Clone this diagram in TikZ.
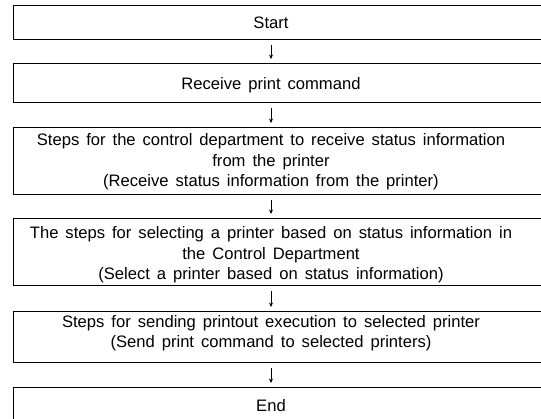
\documentclass[tikz,border=0pt]{standalone}
\usepackage{fontspec}
\setmainfont{Liberation Sans}
\usetikzlibrary{arrows.meta}
\begin{document}
\begin{tikzpicture}[x=1pt,y=-1pt,
  frame/.style={draw=black, line width=1.2pt, inner sep=0pt, anchor=north west,
    minimum width=532pt},
  steptext/.style={font={\fontsize{16.6}{20.5}\selectfont\spaceskip=0.42em\relax},
    align=center, inner sep=0pt},
  flow/.style={line width=0.9pt, -{Stealth[length=4.5pt,width=4pt]}}]
\useasboundingbox (0,0) rectangle (541,419);
\fill[white] (0,0) rectangle (541,419);

% frames of the six steps (right side runs off the page)
\node[frame, minimum height=34pt] (b1) at (13,5) {};
\node[frame, minimum height=39pt] (b2) at (13,63) {};
\node[frame, minimum height=67pt] (b3) at (13,127) {};
\node[frame, minimum height=67pt] (b4) at (13,218) {};
\node[frame, minimum height=51pt] (b5) at (13,311) {};
\node[frame, minimum height=34pt] (b6) at (13,387) {};

% step texts
\node[steptext] (t1) at (271,23) {Start};
\node[steptext] (t2) at (271,85) {Receive print command};
\node[steptext] (t3) at (271,162) {Steps for the control department to receive status information\\
  from the printer\\(Receive status information from the printer)};
\node[steptext] (t4) at (271,255) {The steps for selecting a printer based on status information in\\
  the Control Department\\(Select a printer based on status information)};
\node[steptext] (t5) at (271,333) {Steps for sending printout execution to selected printer\\
  (Send print command to selected printers)};
\node[steptext] (t6) at (271,406) {End};

% connectors between consecutive steps
\foreach \a/\b in {1/2,2/3,3/4,4/5,5/6}{
  \draw[flow] ([yshift=-5pt]b\a.south -| t\a) -- ([yshift=4pt]b\b.north -| t\b);
}
\end{tikzpicture}
\end{document}
